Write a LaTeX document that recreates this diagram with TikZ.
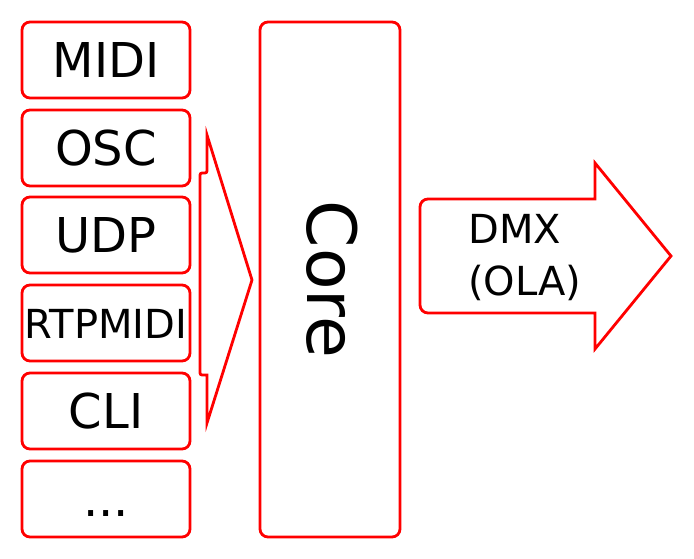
\documentclass[tikz,border=0pt]{standalone}
\usepackage{fontspec}
\setmainfont{DejaVu Sans}
\begin{document}
\begin{tikzpicture}[x=1pt,y=-1pt,
  box/.style={draw=red, line width=2.8pt, rounded corners=8pt, inner sep=0pt,
    minimum width=168pt, minimum height=76pt, text height=35pt, text depth=0pt,
    font=\fontsize{48}{48}\selectfont},
  shp/.style={draw=red, line width=2.8pt, line join=miter}]
\useasboundingbox (0,0) rectangle (694,559);
\node[box] (midi) at (106,60) {MIDI};
\node[box] (osc) at (106,148) {OSC};
\node[box] (udp) at (106,235) {UDP};
\node[box, font=\fontsize{40}{40}\selectfont, text height=30pt] (rtp) at (106,323) {RTPMIDI};
\node[box] (cli) at (106,411) {CLI};
\node[box] (more) at (106,499) {...};
\node[draw=red, line width=2.8pt, rounded corners=8pt, inner sep=0pt, rotate=-90,
  minimum width=515pt, minimum height=140pt, text height=46pt, text depth=0pt,
  font=\fontsize{68}{68}\selectfont] (core) at (330,279.5) {Core};
\draw[shp] (207,135) -- (252,280) -- (207,423) -- (207,375)
  [rounded corners=2pt] -- (200,375) -- (200,173) -- (207,173) [sharp corners] -- cycle;
\draw[shp] (595,163) -- (671,256) -- (595,349) -- (595,313)
  [rounded corners=8pt] -- (420,313) -- (420,199) [sharp corners] -- (595,199) -- cycle;
\node[anchor=west, align=left, inner sep=0pt, font=\fontsize{40}{52}\selectfont]
  (dmx) at (468,258) {DMX\\(OLA)};
\end{tikzpicture}
\end{document}
